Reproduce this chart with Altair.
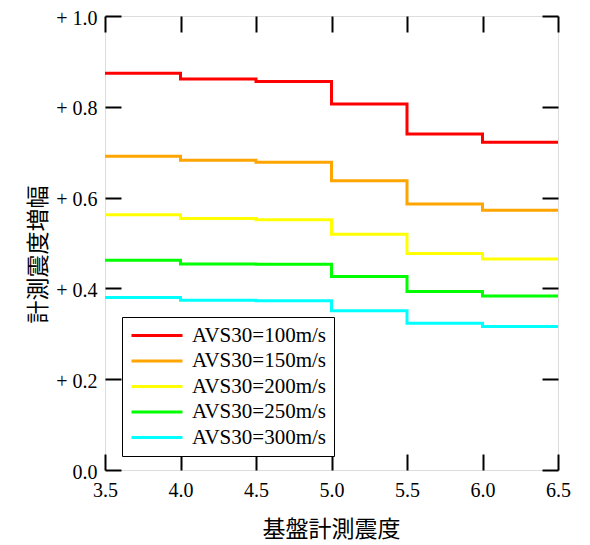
import altair as alt
import pandas as pd

series = ["AVS30=100m/s", "AVS30=150m/s", "AVS30=200m/s", "AVS30=250m/s", "AVS30=300m/s"]
colors = ["#FF0000", "#FFA500", "#FFFF00", "#00FF00", "#00FFFF"]
x_steps = [3.5, 4.0, 4.5, 5.0, 5.5, 6.0, 6.5]

v100 = [0.874, 0.861, 0.856, 0.806, 0.740, 0.722]
v150 = [0.691, 0.682, 0.678, 0.637, 0.586, 0.572]
v200 = [0.562, 0.554, 0.551, 0.519, 0.477, 0.465]
v250 = [0.462, 0.454, 0.453, 0.426, 0.393, 0.383]
v300 = [0.380, 0.374, 0.373, 0.351, 0.323, 0.316]

x_ticks = [3.5, 4.0, 4.5, 5.0, 5.5, 6.0, 6.5]
y_ticks = [0.0, 0.2, 0.4, 0.6, 0.8, 1.0]

rows = []
for name, vals in zip(series, [v100, v150, v200, v250, v300]):
    ys = vals + [vals[-1]]
    for xv, yv in zip(x_steps, ys):
        rows.append({"series": name, "x": xv, "y": yv})
df = pd.DataFrame(rows)

xscale = alt.Scale(domain=[3.5, 6.5], nice=False, zero=False)
yscale = alt.Scale(domain=[0, 1.0], nice=False, zero=False)

serif = "Liberation Serif"
cjk = "Noto Sans CJK JP"

lines = alt.Chart(df).mark_line(interpolate="step-after", strokeWidth=3).encode(
    x=alt.X("x:Q", scale=xscale,
            axis=alt.Axis(orient="bottom", values=x_ticks, format=".1f", offset=-16,
                          tickSize=16, tickWidth=2, tickColor="black", domain=False,
                          labelFont=serif, labelFontSize=20, labelColor="black",
                          labelPadding=10, labelFlush=False, grid=False,
                          title="基盤計測震度", titleFont=cjk, titleFontSize=23,
                          titleFontWeight="normal", titleColor="black",
                          titleX=226, titleY=75, titleBaseline="middle", titleAlign="center")),
    y=alt.Y("y:Q", scale=yscale,
            axis=alt.Axis(orient="left", values=y_ticks, offset=-16,
                          labelExpr="datum.value == 0 ? '0.0' : '+ ' + format(datum.value, '.1f')",
                          tickSize=16, tickWidth=2, tickColor="black", domain=False,
                          labelFont=serif, labelFontSize=20, labelColor="black",
                          labelPadding=8, labelOffset=2, labelFlush=False, grid=False,
                          title="計測震度増幅", titleFont=cjk, titleFontSize=23,
                          titleFontWeight="normal", titleColor="black",
                          titleX=-83, titleY=238, titleAngle=-90,
                          titleBaseline="middle", titleAlign="center")),
    color=alt.Color("series:N", scale=alt.Scale(domain=series, range=colors),
                    legend=alt.Legend(title=None, orient="none", legendX=17, legendY=301,
                                      symbolType="M-9,0H42", symbolSize=4, symbolStrokeWidth=3,
                                      labelFont=serif, labelFontSize=21, labelColor="black",
                                      labelOffset=41, rowPadding=3.5, padding=8,
                                      strokeColor="black", fillColor="white",
                                      cornerRadius=0, labelLimit=300)),
)

frame = alt.Chart(df).mark_point(opacity=0).encode(
    x=alt.X("x:Q", scale=xscale,
            axis=alt.Axis(orient="top", values=x_ticks, offset=-16, tickSize=16, tickWidth=2,
                          tickColor="black", domain=False, labels=False, grid=False, title=None)),
    y=alt.Y("y:Q", scale=yscale,
            axis=alt.Axis(orient="right", values=y_ticks, offset=-16, tickSize=16, tickWidth=2,
                          tickColor="black", domain=False, labels=False, grid=False, title=None)),
)

chart = alt.layer(lines, frame).resolve_scale(x="independent", y="independent").properties(
    width=453, height=454,
    padding={"left": 97, "top": 8, "right": 20, "bottom": 74},
    autosize="none",
).configure_view(stroke="black", strokeWidth=2).configure(background="white")

chart.save("out.html", embed_options={"renderer": "svg", "actions": False})
